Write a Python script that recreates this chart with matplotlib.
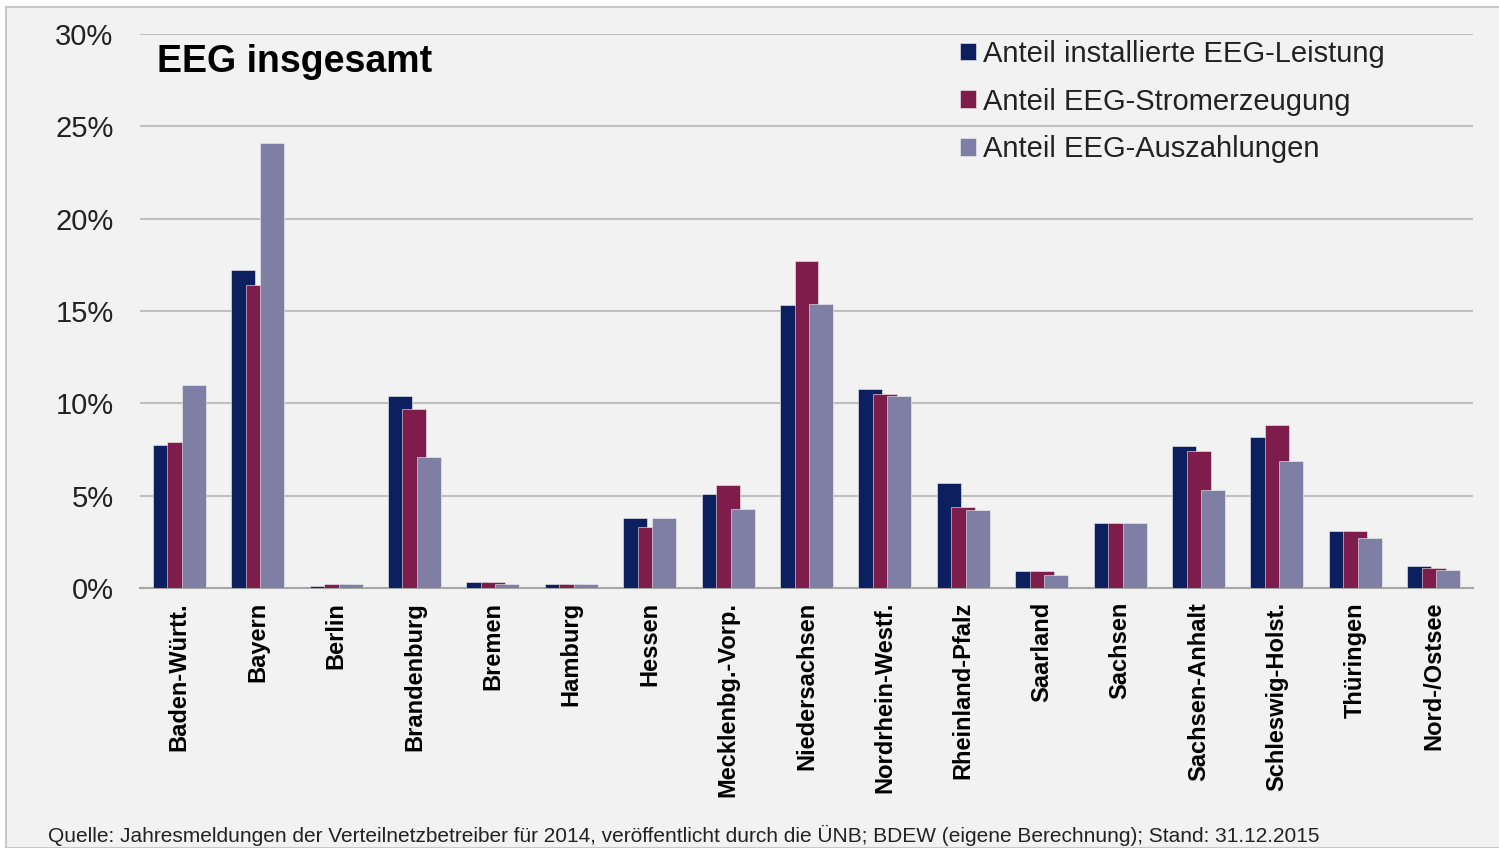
import numpy as np
import matplotlib.pyplot as plt
from matplotlib.patches import Rectangle
from matplotlib.ticker import FuncFormatter

plt.rcParams['font.family'] = ['Liberation Sans', 'DejaVu Sans']

laender = ["Baden-Württ.", "Bayern", "Berlin", "Brandenburg", "Bremen", "Hamburg",
           "Hessen", "Mecklenbg.-Vorp.", "Niedersachsen", "Nordrhein-Westf.",
           "Rheinland-Pfalz", "Saarland", "Sachsen", "Sachsen-Anhalt",
           "Schleswig-Holst.", "Thüringen", "Nord-/Ostsee"]

leistung = [7.75, 17.2, 0.1, 10.4, 0.3, 0.2, 3.8, 5.1, 15.3, 10.8, 5.7, 0.9, 3.5, 7.7, 8.2, 3.1, 1.2]
erzeugung = [7.9, 16.4, 0.2, 9.7, 0.3, 0.2, 3.3, 5.6, 17.7, 10.5, 4.4, 0.9, 3.5, 7.4, 8.8, 3.1, 1.1]
auszahlung = [11.0, 24.1, 0.2, 7.1, 0.2, 0.2, 3.8, 4.3, 15.4, 10.4, 4.2, 0.7, 3.5, 5.3, 6.9, 2.7, 1.0]

series = [
    ("Anteil installierte EEG-Leistung", leistung, "#0c1f5e"),
    ("Anteil EEG-Stromerzeugung", erzeugung, "#7e1c4b"),
    ("Anteil EEG-Auszahlungen", auszahlung, "#7f7fa5"),
]


def main():
    fig = plt.figure(figsize=(14.99, 8.48), dpi=100)
    fig.patch.set_facecolor("white")

    # grey panel behind the chart
    fig.patches.append(Rectangle((6 / 1499, 0), 1, 1 - 7 / 848, transform=fig.transFigure,
                                 facecolor="#f2f2f2", edgecolor="#c8c8c8", linewidth=1.5,
                                 zorder=-10))

    ax = fig.add_axes([140 / 1499, 1 - 588 / 848, 1333 / 1499, 554 / 848])
    ax.set_facecolor("none")

    x = np.arange(len(laender))
    width = 0.306
    offsets = [-0.185, 0.0, 0.185]
    for (label, vals, col), off in zip(series, offsets):
        ax.bar(x + off, vals, width, color=col, label=label, zorder=3,
               edgecolor="#f2f2f2", linewidth=0.4)

    ax.set_xlim(-0.5, len(laender) - 0.5)
    ax.set_ylim(0, 30)
    ax.set_yticks(np.arange(0, 31, 5))
    ax.yaxis.set_major_formatter(FuncFormatter(lambda v, p: f"{v:.0f}%"))
    ax.grid(axis="y", color="#bfbfbf", linewidth=1.5, zorder=0)
    ax.set_axisbelow(True)

    for s in ["top", "right", "left"]:
        ax.spines[s].set_visible(False)
    ax.spines["bottom"].set_color("#a6a6a6")
    ax.spines["bottom"].set_linewidth(1.5)

    ax.set_xticks(x)
    ax.set_xticklabels(laender, rotation=90, fontsize=17, fontweight="bold", va="top")
    ax.tick_params(axis="x", length=0, pad=10, colors="black")
    ax.tick_params(axis="y", length=0, pad=19, labelsize=21, labelcolor="#222222")

    fig.text(157 / 1499, 1 - 72 / 848, "EEG insgesamt", fontsize=27, fontweight="bold",
             va="baseline", ha="left")

    ax.legend(loc="upper left", bbox_to_anchor=(960 / 1499, 1 - 40 / 848),
              bbox_transform=fig.transFigure, frameon=False, fontsize=21,
              borderpad=0, borderaxespad=0, handlelength=0.55, handleheight=0.55,
              handletextpad=0.25, labelspacing=0.67, labelcolor="#222222")

    fig.text(48 / 1499, 1 - 842 / 848,
             "Quelle: Jahresmeldungen der Verteilnetzbetreiber für 2014, veröffentlicht durch die ÜNB; "
             "BDEW (eigene Berechnung); Stand: 31.12.2015",
             fontsize=15, va="baseline", ha="left", color="#222222")

    fig.savefig("out.png", dpi=100, facecolor=fig.get_facecolor())


if __name__ == "__main__":
    main()
